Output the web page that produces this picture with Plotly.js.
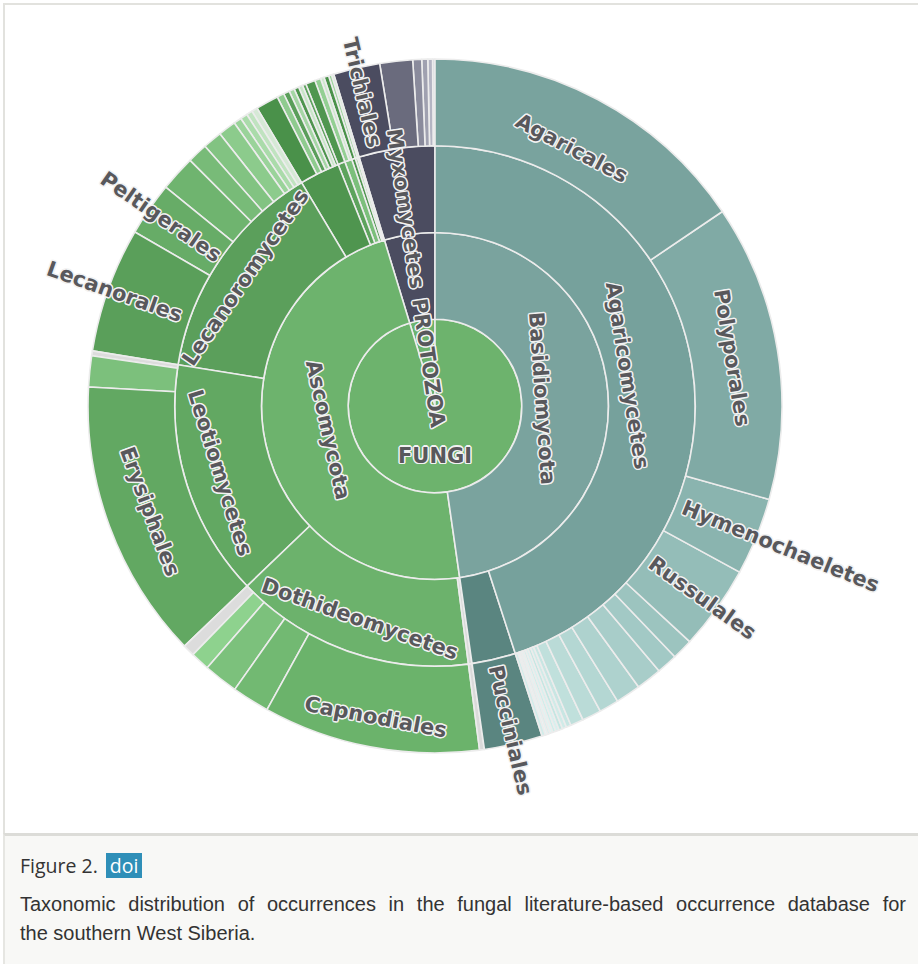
<!DOCTYPE html>
<html>
<head>
<meta charset="utf-8">
<script src="https://cdn.plot.ly/plotly-3.0.1.min.js"></script>
<style>
  html, body { margin: 0; padding: 0; background: #ffffff; }
  body { width: 918px; height: 964px; position: relative; overflow: hidden; }
  #panel { position: absolute; left: 3px; top: 3px; width: 920px; height: 829px;
           border-top: 2px solid #e2e2de; border-left: 2px solid #e2e2de; background: #fff; }
  #chart { position: absolute; left: 0; top: 0; width: 918px; height: 830px; }
  #caption { position: absolute; left: 3px; top: 833px; width: 920px; height: 140px;
             background: #f8f8f6; border-top: 3px solid #dcdcd8; border-left: 2px solid #e6e6e2; }
  #figlabel { position: absolute; left: 15px; top: 17px; font-family: "Open Sans", sans-serif;
              font-size: 19.5px; color: #333; line-height: 26px; white-space: nowrap; }
  #doi { display: inline-block; background: #2f8fb8; color: #fff; padding: 0 4px; margin-left: 3px;
         line-height: 25px; }
  .capline { position: absolute; left: 15px; width: 886px; font-family: "Liberation Sans", Arial, sans-serif;
             font-size: 20px; line-height: 24px; color: #333; }
  #cap1 { top: 56px; text-align: justify; text-align-last: justify; }
  #cap2 { top: 85px; white-space: nowrap; }
</style>
</head>
<body>
<div id="panel"></div>
<div id="chart"></div>
<div id="caption">
  <div id="figlabel">Figure 2. <span id="doi">doi</span></div>
  <div class="capline" id="cap1">Taxonomic distribution of occurrences in the fungal literature-based occurrence database for</div>
  <div class="capline" id="cap2">the southern West Siberia.</div>
</div>
<script>
// Hierarchy listed clockwise from 12 o'clock (values = estimated occurrence counts)
var nodeIds = [
  "FUNGI", "PROTOZOA",
  "Basidiomycota", "Ascomycota", "Myxomycota",
  "Agaricomycetes", "Pucciniomycetes",
  "Taphrinomycetes", "Dothideomycetes", "Leotiomycetes", "Lecanoromycetes", "Sordariomycetes",
  "Pezizomycetes", "Eurotiomycetes", "Arthoniomycetes", "Orbiliomycetes", "Geoglossomycetes",
  "Myxomycetes",
  "Agaricales", "Polyporales", "Hymenochaetales", "Russulales", "Boletales", "Thelephorales",
  "Cantharellales", "Auriculariales", "Gomphales", "Corticiales", "Atheliales", "Trechisporales",
  "Geastrales", "Phallales", "Sebacinales", "Amylocorticiales", "Hysterangiales", "Tremellodendropsidales",
  "Jaapiales", "Lepidostromatales",
  "Pucciniales",
  "Taphrinales",
  "Capnodiales", "Pleosporales", "Dothideales", "Hysteriales", "Dothideomycetes inc. sed.",
  "Erysiphales", "Helotiales", "Rhytismatales",
  "Lecanorales", "Peltigerales", "Teloschistales", "Ostropales", "Caliciales", "Pertusariales",
  "Acarosporales", "Umbilicariales", "Baeomycetales", "Candelariales",
  "Hypocreales", "Xylariales", "Diaporthales", "Sordariales", "Ophiostomatales", "Glomerellales", "Microascales",
  "Pezizales", "Eurotiales", "Verrucariales", "Arthoniales", "Orbiliales", "Geoglossales",
  "Trichiales", "Physarales", "Stemonitales", "Liceales", "Echinosteliales", "Cribrariales"
];
var nodeParents = [
  "", "",
  "FUNGI", "FUNGI", "PROTOZOA",
  "Basidiomycota", "Basidiomycota",
  "Ascomycota", "Ascomycota", "Ascomycota", "Ascomycota", "Ascomycota",
  "Ascomycota", "Ascomycota", "Ascomycota", "Ascomycota", "Ascomycota",
  "Myxomycota",
  "Agaricomycetes", "Agaricomycetes", "Agaricomycetes", "Agaricomycetes", "Agaricomycetes", "Agaricomycetes",
  "Agaricomycetes", "Agaricomycetes", "Agaricomycetes", "Agaricomycetes", "Agaricomycetes", "Agaricomycetes",
  "Agaricomycetes", "Agaricomycetes", "Agaricomycetes", "Agaricomycetes", "Agaricomycetes", "Agaricomycetes",
  "Agaricomycetes", "Agaricomycetes",
  "Pucciniomycetes",
  "Taphrinomycetes",
  "Dothideomycetes", "Dothideomycetes", "Dothideomycetes", "Dothideomycetes", "Dothideomycetes",
  "Leotiomycetes", "Leotiomycetes", "Leotiomycetes",
  "Lecanoromycetes", "Lecanoromycetes", "Lecanoromycetes", "Lecanoromycetes", "Lecanoromycetes", "Lecanoromycetes",
  "Lecanoromycetes", "Lecanoromycetes", "Lecanoromycetes", "Lecanoromycetes",
  "Sordariomycetes", "Sordariomycetes", "Sordariomycetes", "Sordariomycetes", "Sordariomycetes", "Sordariomycetes", "Sordariomycetes",
  "Pezizomycetes", "Eurotiomycetes", "Eurotiomycetes", "Arthoniomycetes", "Orbiliomycetes", "Geoglossomycetes",
  "Myxomycetes", "Myxomycetes", "Myxomycetes", "Myxomycetes", "Myxomycetes", "Myxomycetes"
];
var nodeValues = [
  0, 0,
  0, 0, 0,
  0, 0,
  0, 0, 0, 0, 0,
  0, 0, 0, 0, 0,
  0,
  560, 498, 130, 142, 35, 35,
  43, 42, 33, 32, 22, 8,
  7, 6, 6, 5, 5, 4,
  4, 6,
  98,
  8,
  364, 63, 58, 32, 20,
  470, 52, 8,
  210, 90, 60, 34, 32, 30,
  13, 12, 10, 10,
  38, 12, 10, 9, 8, 7, 6,
  16, 10, 6, 8, 5, 4,
  78, 55, 15, 10, 8, 4
];
var nodeColors = [
  "#6db36d", "#6db36d",
  "#7aa39e", "#6db36d", "#4b4c60",
  "#76a19c", "#5a8580",
  "#dadada", "#6cb26c", "#62a862", "#5b9f5b", "#4f954f",
  "#5da35d", "#7bbf7b", "#4f954f", "#9fd59f", "#d5ead5",
  "#4b4c60",
  "#79a39e", "#80aaa5", "#8ab4af", "#94bdb8", "#9cc4bf", "#a2c9c5",
  "#a8cdc9", "#aed2ce", "#b4d7d3", "#badbd7", "#c0e0dc", "#c8e6e3",
  "#d0ebe8", "#c4e6e2", "#d8f0ee", "#cdeeea", "#e0f4f2", "#d4efed",
  "#e6f6f5", "#d2ecea",
  "#5a8580",
  "#dadada",
  "#6bb36b", "#72b972", "#7cc17c", "#8ed28e", "#dcdcdc",
  "#62a862", "#7cc07c", "#dcdcdc",
  "#5a9f5a", "#67ac67", "#6fb46f", "#78bb78", "#82c382", "#8ccb8c",
  "#9ad39a", "#aadbaa", "#c0e3c0", "#d6e9d6",
  "#4a914a", "#8fcb8f", "#5a9e5a", "#a5d6a5", "#4e944e", "#c8e6c8", "#5fa35f",
  "#4f964f", "#93cf93", "#cfe8cf", "#4a914a", "#9fd59f", "#d5ead5",
  "#4b4c60", "#6a6b7d", "#8a8b9c", "#a0a1b0", "#b4b5c3", "#c8c9d4"
];
// Labels printed on the chart, grouped by the way they are written
var horizontalLabels = { "FUNGI": "FUNGI" };
var tangentialLabels = {
  "Basidiomycota": "Basidiomycota", "Ascomycota": "Ascomycota",
  "Agaricomycetes": "Agaricomycetes", "Dothideomycetes": "Dothideomycetes",
  "Leotiomycetes": "Leotiomycetes", "Lecanoromycetes": "Lecanoromycetes",
  "Agaricales": "Agaricales", "Polyporales": "Polyporales",
  "Capnodiales": "Capnodiales", "Erysiphales": "Erysiphales"
};
var radialLabels = {
  "PROTOZOA": "PROTOZOA", "Myxomycota": "Myxomycetes",
  "Hymenochaetales": "Hymenochaeletes", "Russulales": "Russulales", "Pucciniales": "Pucciniales",
  "Lecanorales": "Lecanorales", "Peltigerales": "Peltigerales", "Trichiales": "Trichiales"
};

// ---- presentation ----
// radial labels start near the inner edge of their ring: pad them with no-break spaces
var NB = "\u00A0";
function rep(n) { return new Array(n + 1).join(NB); }
var radialPad = {            // [count, side]  1 = leading, -1 = trailing
  "PROTOZOA": [4, 1], "Myxomycota": [19, -1],
  "Hymenochaetales": [19, 1], "Russulales": [7, 1], "Pucciniales": [8, 1],
  "Lecanorales": [10, -1], "Peltigerales": [8, -1], "Trichiales": [5, -1]
};
var centerPad = { "FUNGI": NB + "<br>" };   // drops the centre label a little below the middle

// Plotly lays sunburst sectors out counter-clockwise: reverse the clockwise listing
var ids = nodeIds.slice().reverse();
var parents = nodeParents.slice().reverse();
var values = nodeValues.slice().reverse();
var colors = nodeColors.slice().reverse();

function textsFor(map, pad, prefix) {
  return ids.map(function (d) {
    var t = map[d];
    if (!t) return "";
    if (prefix && prefix[d]) return prefix[d] + t;
    if (pad && pad[d]) {
      var p = rep(pad[d][0]);
      return pad[d][1] > 0 ? p + t : t + p;
    }
    return t;
  });
}

var OUT = "#f2f2f2";
var fontSpec = {
  family: "DejaVu Sans, sans-serif", size: 21, color: "#58585c", weight: "bold",
  shadow: "1px 1px 0 " + OUT + ", -1px -1px 0 " + OUT + ", 1px -1px 0 " + OUT + ", -1px 1px 0 " + OUT +
          ", 0 1.5px 0 " + OUT + ", 0 -1.5px 0 " + OUT + ", 1.5px 0 0 " + OUT + ", -1.5px 0 0 " + OUT
};

var base = {
  type: "sunburst",
  ids: ids, labels: ids, parents: parents, values: values,
  branchvalues: "remainder",
  sort: false,
  rotation: 90,
  hoverinfo: "none",
  leaf: { opacity: 1 }
};

var fills = Object.assign({}, base, {
  textinfo: "none",
  marker: { colors: colors, line: { color: "#ececec", width: 1.6 } }
});

var clear = ids.map(function () { return "rgba(0,0,0,0)"; });
function labelLayer(map, orientation, pad, prefix) {
  return Object.assign({}, base, {
    text: textsFor(map, pad, prefix),
    textinfo: "text",
    insidetextorientation: orientation,
    textfont: Object.assign({}, fontSpec),
    marker: { colors: clear, line: { color: "rgba(0,0,0,0)", width: 0 } }
  });
}

var traces = [
  fills,
  labelLayer(radialLabels, "radial", radialPad),
  labelLayer(tangentialLabels, "tangential"),
  labelLayer(horizontalLabels, "horizontal", null, centerPad)
];

var layout = {
  width: 918, height: 830,
  margin: { l: 88, r: 136, t: 59, b: 77 },
  paper_bgcolor: "rgba(0,0,0,0)",
  plot_bgcolor: "rgba(0,0,0,0)",
  uniformtext: { minsize: 21, mode: "show" },
  showlegend: false
};

Plotly.newPlot("chart", traces, layout, { displayModeBar: false, staticPlot: true });
</script>
</body>
</html>
